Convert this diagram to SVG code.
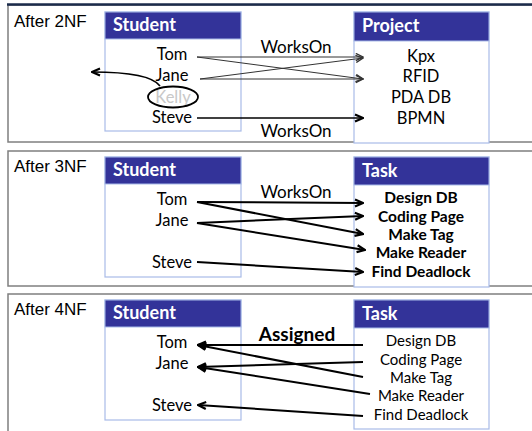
<svg xmlns="http://www.w3.org/2000/svg" width="532" height="431" viewBox="0 0 532 431">
<defs>
<style>
.panel{fill:#fff;stroke:#7f7f7f;stroke-width:1.5}
.hdr{fill:#333399;stroke:#a9bbe8;stroke-width:1}
.box{fill:#fff;stroke:#a9bbe8;stroke-width:1.2}
.ht{font-family:Lato,"Open Sans",sans-serif;font-weight:bold;font-size:18px;fill:#fff}
.lbl{font-family:"Liberation Sans",Arial,sans-serif;font-size:17px;fill:#000}
.nm{font-family:Lato,"Open Sans",sans-serif;font-size:16.5px;fill:#000;text-anchor:middle}
.tb{font-family:Lato,"Open Sans",sans-serif;font-size:15.5px;font-weight:bold;fill:#000;text-anchor:middle}
.tr{font-family:Lato,"Open Sans",sans-serif;font-size:15px;fill:#000;text-anchor:middle}
.rel{font-family:Lato,"Open Sans",sans-serif;font-size:17px;fill:#000;text-anchor:middle}
.thin{fill:none;stroke:#333;stroke-width:1;marker-end:url(#aThin)}
.thick{fill:none;stroke:#000;stroke-width:2;marker-end:url(#aThick)}
.med{fill:none;stroke:#000;stroke-width:1.6;marker-end:url(#aThick)}
</style>
<marker id="aThin" viewBox="0 0 10 10" refX="9" refY="5" markerWidth="9" markerHeight="9" markerUnits="userSpaceOnUse" orient="auto">
<path d="M1,1 L9,5 L1,9" fill="none" stroke="#333" stroke-width="1.5"/>
</marker>
<marker id="aThick" viewBox="0 0 10 10" refX="9" refY="5" markerWidth="10" markerHeight="10" markerUnits="userSpaceOnUse" orient="auto">
<path d="M1,1.5 L9,5 L1,8.5" fill="none" stroke="#000" stroke-width="2.2"/>
</marker>
</defs>

<!-- panels -->
<g id="panel1">
<rect class="panel" x="8" y="5" width="540" height="137"/>
<line x1="7" y1="4.5" x2="532" y2="4.5" stroke="#1b2b4b" stroke-width="2.5"/>
<text class="lbl" x="14" y="27">After 2NF</text>
</g>
<g id="panel2">
<rect class="panel" x="8" y="151" width="540" height="135"/>
<text class="lbl" x="14" y="172">After 3NF</text>
</g>
<g id="panel3">
<rect class="panel" x="8" y="294" width="540" height="150"/>
<text class="lbl" x="14" y="315">After 4NF</text>
</g>

<!-- Panel 1 nodes -->
<g id="student1">
<rect class="box" x="105" y="12" width="136" height="119"/>
<rect class="hdr" x="105" y="12" width="136" height="27"/>
<text class="ht" x="113" y="31">Student</text>
<text class="nm" x="172" y="60">Tom</text>
<text class="nm" x="172" y="81">Jane</text>
<text class="nm" x="173" y="103" style="fill:#c8c8c8">Kelly</text>
<text class="nm" x="172" y="123">Steve</text>
</g>
<g id="kelly-mark">
<ellipse cx="173" cy="97" rx="25" ry="10.5" fill="none" stroke="#000" stroke-width="1.8"/>
</g>
<g id="project1">
<rect class="box" x="354" y="12" width="135" height="131"/>
<rect class="hdr" x="354" y="12" width="135" height="29"/>
<text class="ht" x="362" y="32">Project</text>
<text class="nm" x="421" y="62">Kpx</text>
<text class="nm" x="421" y="82">RFID</text>
<text class="nm" x="421" y="103">PDA DB</text>
<text class="nm" x="421" y="124">BPMN</text>
</g>

<!-- Panel 2 nodes -->
<g id="student2">
<rect class="box" x="105" y="157" width="136" height="120"/>
<rect class="hdr" x="105" y="157" width="136" height="27"/>
<text class="ht" x="113" y="176">Student</text>
<text class="nm" x="172" y="205">Tom</text>
<text class="nm" x="172" y="226">Jane</text>
<text class="nm" x="172" y="268">Steve</text>
</g>
<g id="task2">
<rect class="box" x="354" y="157" width="135" height="130"/>
<rect class="hdr" x="354" y="157" width="135" height="28"/>
<text class="ht" x="362" y="177">Task</text>
<text class="tb" x="421" y="203">Design DB</text>
<text class="tb" x="421" y="222">Coding Page</text>
<text class="tb" x="421" y="240">Make Tag</text>
<text class="tb" x="421" y="258">Make Reader</text>
<text class="tb" x="421" y="277">Find Deadlock</text>
</g>

<!-- Panel 3 nodes -->
<g id="student3">
<rect class="box" x="105" y="300" width="136" height="120"/>
<rect class="hdr" x="105" y="300" width="136" height="27"/>
<text class="ht" x="113" y="319">Student</text>
<text class="nm" x="172" y="348">Tom</text>
<text class="nm" x="172" y="369">Jane</text>
<text class="nm" x="172" y="411">Steve</text>
</g>
<g id="task3">
<rect class="box" x="354" y="300" width="135" height="129"/>
<rect class="hdr" x="354" y="300" width="135" height="28"/>
<text class="ht" x="362" y="320">Task</text>
<text class="tr" x="421" y="346">Design DB</text>
<text class="tr" x="421" y="365">Coding Page</text>
<text class="tr" x="421" y="383">Make Tag</text>
<text class="tr" x="421" y="401">Make Reader</text>
<text class="tr" x="421" y="420">Find Deadlock</text>
</g>

<!-- connectors -->
<g id="connectors">
<text class="rel" x="296" y="53">WorksOn</text>
<text class="rel" x="296" y="137">WorksOn</text>
<line class="thin" x1="197" y1="57" x2="363" y2="57"/>
<line class="thin" x1="197" y1="57" x2="363" y2="79"/>
<line class="thin" x1="200" y1="79" x2="363" y2="58"/>
<line class="thin" x1="200" y1="79" x2="363" y2="79"/>
<line class="med" x1="197" y1="118" x2="363" y2="118"/>
<path class="med" d="M160,86 Q150,72 92,72"/>

<text class="rel" x="296" y="198">WorksOn</text>
<line class="thick" x1="197" y1="202" x2="363" y2="203"/>
<line class="thick" x1="197" y1="202" x2="363" y2="234"/>
<line class="thick" x1="197" y1="223" x2="363" y2="216"/>
<line class="thick" x1="197" y1="223" x2="365" y2="250"/>
<line class="thick" x1="197" y1="262" x2="363" y2="272"/>

<text class="rel" x="297" y="341" style="font-weight:bold;font-size:19px">Assigned</text>
<line class="thick" x1="363" y1="345" x2="198" y2="345"/>
<line class="thick" x1="363" y1="377" x2="198" y2="345"/>
<line class="thick" x1="363" y1="362" x2="198" y2="367"/>
<line class="thick" x1="370" y1="394" x2="198" y2="367"/>
<line class="thick" x1="363" y1="416" x2="198" y2="405"/>
</g>
</svg>
